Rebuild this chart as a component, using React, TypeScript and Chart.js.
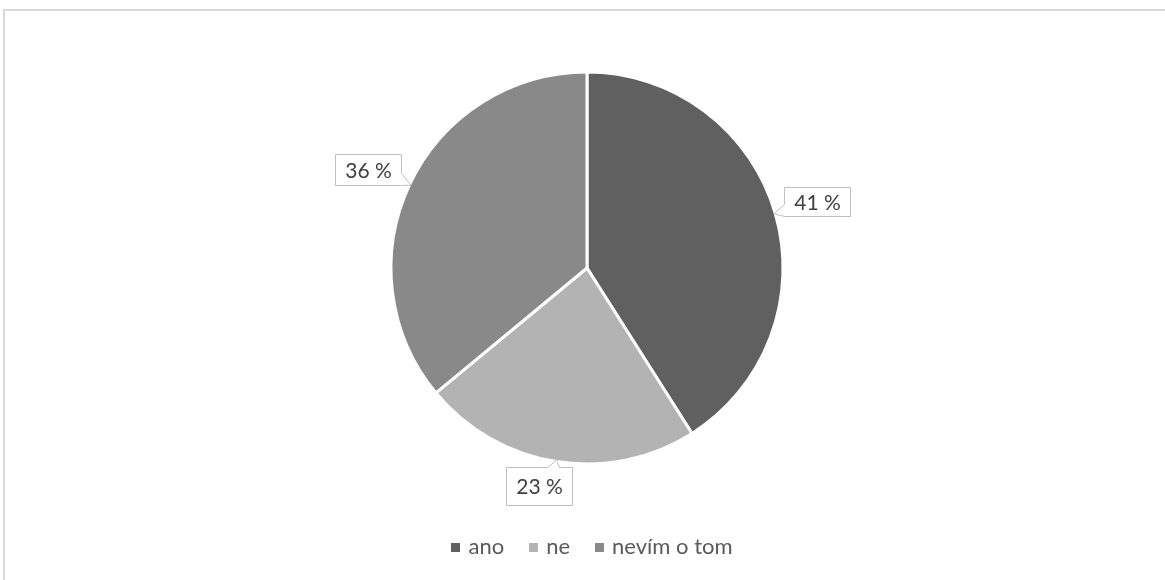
import React, { useEffect, useRef } from "react";
import { Chart, registerables } from "chart.js";

Chart.register(...registerables);

const categories = ["ano", "ne", "nevím o tom"];
const values = [41, 23, 36];
const valueLabels = ["41 %", "23 %", "36 %"];
const colors = ["#606060", "#b3b3b3", "#898989"];

// callout box centre offset from the tip on the slice edge, and box heights (styling)
const calloutOffsets: [number, number][] = [
  [43, -12],
  [-17.5, 26],
  [-43.5, -15.5],
];
const calloutHeights = [29, 38, 31];

const FONT = "Lato, 'Open Sans', sans-serif";

const calloutPlugin = {
  id: "callouts",
  afterDatasetsDraw(chart: any) {
    const ctx: CanvasRenderingContext2D = chart.ctx;
    const meta = chart.getDatasetMeta(0);
    ctx.save();
    ctx.font = `21px ${FONT}`;
    meta.data.forEach((arc: any, i: number) => {
      const p = arc.getProps(["x", "y", "startAngle", "endAngle", "outerRadius"], true);
      const mid = (p.startAngle + p.endAngle) / 2;
      const r = p.outerRadius - 1.5;
      const tx = p.x + Math.cos(mid) * r;
      const ty = p.y + Math.sin(mid) * r;
      const text = valueLabels[i];
      const tw = ctx.measureText(text).width;
      const bw = Math.round(tw + 19);
      const bh = calloutHeights[i];
      const [dx, dy] = calloutOffsets[i];
      const cx = tx + dx;
      const cy = ty + dy;
      const l = Math.round(cx - bw / 2) + 0.5;
      const t = Math.round(cy - bh / 2) + 0.5;
      const rt = l + bw;
      const b = t + bh;
      const before = 9;
      const after = 3;
      const span = (v: number, a: number, z: number): [number, number] => {
        let s = v - before;
        let e = v + after;
        if (s < a) { e += a - s; s = a; }
        if (e > z) { s -= e - z; e = z; }
        return [s, e];
      };
      ctx.beginPath();
      ctx.moveTo(l, t);
      if (ty < t) {
        const [s, e] = span(tx, l, rt);
        ctx.lineTo(s, t);
        ctx.lineTo(tx, ty);
        ctx.lineTo(e, t);
      }
      ctx.lineTo(rt, t);
      if (tx > rt) {
        const [s, e] = span(ty, t, b);
        ctx.lineTo(rt, s);
        ctx.lineTo(tx, ty);
        ctx.lineTo(rt, e);
      }
      ctx.lineTo(rt, b);
      if (ty > b) {
        const [s, e] = span(tx, l, rt);
        ctx.lineTo(e, b);
        ctx.lineTo(tx, ty);
        ctx.lineTo(s, b);
      }
      ctx.lineTo(l, b);
      if (tx < l) {
        const [s, e] = span(ty, t, b);
        ctx.lineTo(l, e);
        ctx.lineTo(tx, ty);
        ctx.lineTo(l, s);
      }
      ctx.closePath();
      ctx.fillStyle = "#ffffff";
      ctx.fill();
      ctx.strokeStyle = "#bfbfbf";
      ctx.lineWidth = 1;
      ctx.stroke();
      ctx.fillStyle = "#404040";
      ctx.textAlign = "center";
      ctx.textBaseline = "middle";
      ctx.fillText(text, (l + rt) / 2, (t + b) / 2 + 1);
    });
    ctx.restore();
  },
};

const legendPlugin = {
  id: "bottomLegend",
  afterDraw(chart: any) {
    const ctx: CanvasRenderingContext2D = chart.ctx;
    ctx.save();
    ctx.font = `22px ${FONT}`;
    const box = 9;
    const gapBoxText = 8;
    const gapItems = 25;
    const labels: string[] = chart.data.labels;
    const widths = labels.map((s) => ctx.measureText(s).width);
    const total =
      widths.reduce((a, w) => a + box + gapBoxText + w, 0) + gapItems * (labels.length - 1);
    const meta = chart.getDatasetMeta(0);
    const centerX = meta.data[0].x + 5;
    let x = centerX - total / 2;
    const y = 547;
    labels.forEach((s, i) => {
      ctx.fillStyle = chart.data.datasets[0].backgroundColor[i];
      ctx.fillRect(Math.round(x), Math.round(y - box / 2), box, box);
      x += box + gapBoxText;
      ctx.fillStyle = "#595959";
      ctx.textAlign = "left";
      ctx.textBaseline = "middle";
      ctx.fillText(s, x, y);
      x += widths[i] + gapItems;
    });
    ctx.restore();
  },
};

export default function App() {
  const ref = useRef<HTMLCanvasElement | null>(null);
  useEffect(() => {
    if (!ref.current) return;
    const chart = new Chart(ref.current, {
      type: "pie",
      data: {
        labels: categories,
        datasets: [
          {
            data: values,
            backgroundColor: colors,
            borderColor: "#ffffff",
            borderWidth: 3,
          },
        ],
      },
      options: {
        animation: false,
        responsive: false,
        devicePixelRatio: 1,
        layout: { padding: { top: 70.5, bottom: 114.5, left: 9, right: 0 } },
        plugins: {
          legend: { display: false },
          tooltip: { enabled: false },
        },
      },
      plugins: [calloutPlugin, legendPlugin],
    });
    return () => chart.destroy();
  }, []);
  return (
    <div style={{ position: "fixed", left: 0, top: 0, width: 1165, height: 580, background: "#fff", overflow: "hidden" }}>
      <div
        style={{
          position: "absolute",
          left: 3,
          top: 9,
          width: 1200,
          height: 620,
          border: "2px solid #d9d9d9",
          boxSizing: "border-box",
        }}
      />
      <canvas ref={ref} width={1165} height={580} style={{ position: "absolute", left: 0, top: 0, width: 1165, height: 580 }} />
    </div>
  );
}
